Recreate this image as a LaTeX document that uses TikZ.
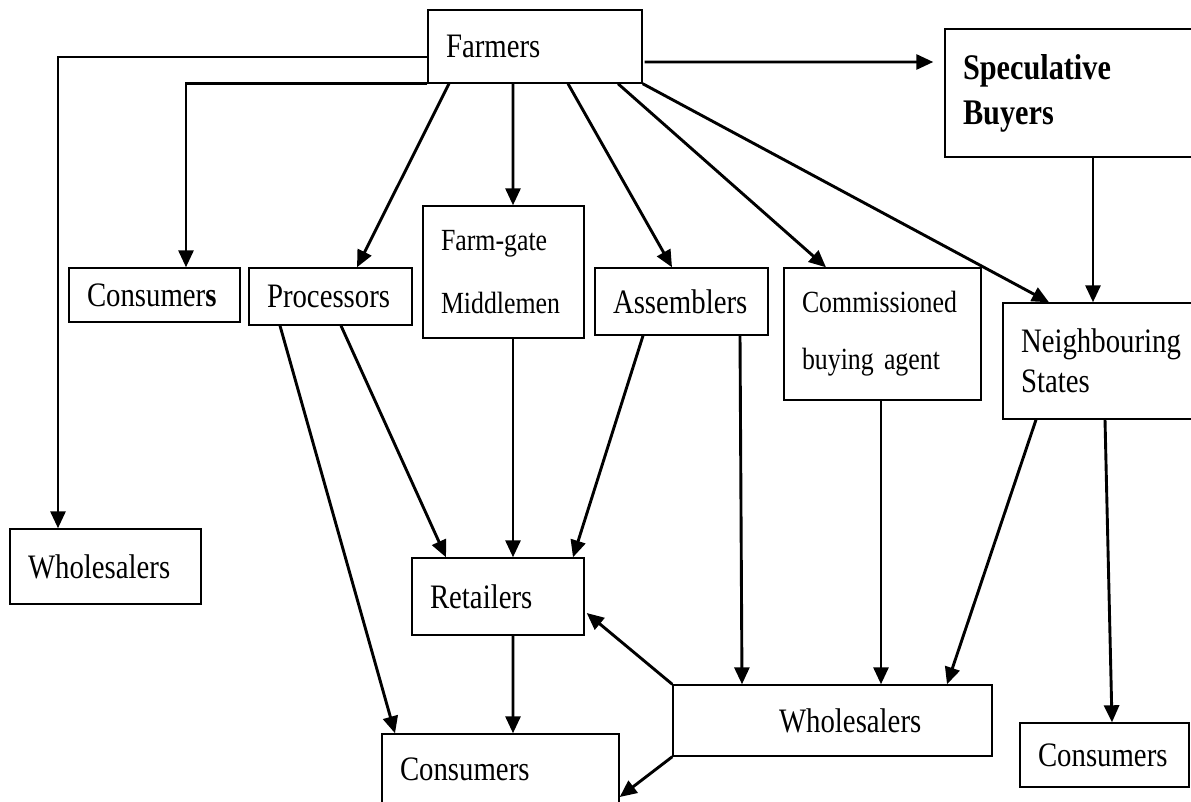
\documentclass[tikz,border=0pt]{standalone}
\usepackage{fontspec}
\setmainfont{Liberation Serif}[FakeStretch=0.84]
\usepackage{tikz}
\usetikzlibrary{arrows.meta}

\tikzset{
  box/.style={draw, line width=0.8pt, inner xsep=0.36cm, inner ysep=0pt, align=left,
    font=\fontsize{19.5}{23}\selectfont},
  small/.style={font=\fontsize{17.5}{21}\selectfont},
  flow/.style={-{Triangle[length=0.34cm,width=0.3cm]}, line width=1.65pt}
}

\begin{document}
\begin{tikzpicture}
\clip (0,0) rectangle (23.82,-16.02);
\node[box, text width=3.56cm, minimum height=1.46cm] (farmers) at (10.70,-0.93) {Farmers};
\node[box, text width=4.28cm, minimum height=2.56cm, font=\fontsize{20.5}{25.5}\selectfont\bfseries] (spec) at (21.40,-1.86) {Speculative\\Buyers};
\node[box, text width=2.70cm, minimum height=1.08cm] (consL) at (3.09,-5.90) {Consumer\textbf{s}};
\node[box, text width=2.54cm, minimum height=1.14cm] (proc) at (6.61,-5.93) {Processors};
\node[box, small, text width=2.50cm, minimum height=2.64cm] (fgm) at (10.07,-5.44) {Farm-gate\\[14.7pt]Middlemen};
\node[box, text width=2.74cm, minimum height=1.34cm] (assem) at (13.63,-6.03) {Assemblers};
\node[box, small, text width=3.22cm, minimum height=2.64cm] (comm) at (17.65,-6.68) {Commissioned\\[11.3pt]buying agent};
\node[box, text width=3.12cm, minimum height=2.32cm] (neigh) at (21.98,-7.22) {Neighbouring\\States};
\node[box, text width=3.10cm, minimum height=1.50cm] (wholL) at (2.11,-11.33) {Wholesalers};
\node[box, text width=2.72cm, minimum height=1.54cm] (retail) at (9.96,-11.93) {Retailers};
\node[box, text width=4.02cm, minimum height=1.42cm] (consB) at (10.01,-15.39) {Consumers};
\node[box, text width=5.66cm, minimum height=1.42cm] (wholB) at (16.65,-14.41) {\hspace*{1.76cm}Wholesalers};
\node[box, text width=2.66cm, minimum height=1.28cm] (consR) at (22.09,-15.10) {Consumers};

\draw[flow] ([yshift=-0.21cm]farmers.west) -| ([xshift=-0.95cm]wholL.north);
\draw[flow] (farmers.south west) -| ([xshift=0.63cm]consL.north);
\draw[flow] ([xshift=-1.72cm]farmers.south) -- ([xshift=0.53cm]proc.north);
\draw[flow] ([xshift=-0.44cm]farmers.south) -- ([xshift=0.19cm]fgm.north);
\draw[flow] ([xshift=0.66cm]farmers.south) -- ([xshift=-0.19cm]assem.north);
\draw[flow] ([xshift=1.66cm]farmers.south) -- ([xshift=-1.13cm]comm.north);
\draw[flow] (farmers.south east) -- ([xshift=-1.0cm]neigh.north);
\draw[flow] ([xshift=0.04cm,yshift=-0.31cm]farmers.east) -- ([xshift=-0.22cm,yshift=0.62cm]spec.west);
\draw[flow] ([xshift=0.46cm]spec.south) -- ([xshift=-0.12cm]neigh.north);

\draw[flow] ([xshift=-1.01cm]proc.south) -- ([xshift=-2.11cm]consB.north);
\draw[flow] ([xshift=0.21cm]proc.south) -- ([xshift=-1.04cm]retail.north);
\draw[flow] ([xshift=0.19cm]fgm.south) -- ([xshift=0.30cm]retail.north);
\draw[flow] ([xshift=-0.77cm]assem.south) -- ([xshift=1.5cm]retail.north);
\draw[flow] ([xshift=0.30cm]retail.south) -- ([xshift=0.25cm]consB.north);
\draw[flow] ([xshift=1.17cm]assem.south) -- ([xshift=-1.81cm]wholB.north);
\draw[flow] ([xshift=-0.03cm]comm.south) -- ([xshift=0.97cm]wholB.north);
\draw[flow] ([xshift=-1.26cm]neigh.south) -- ([xshift=2.29cm]wholB.north);
\draw[flow] ([xshift=0.12cm]neigh.south) -- ([xshift=0.15cm]consR.north);
\draw[flow] (wholB.north west) -- ([xshift=0.04cm,yshift=-0.33cm]retail.east);
\draw[flow] (wholB.south west) -- ([yshift=-0.55cm]consB.east);

\end{tikzpicture}
\end{document}
